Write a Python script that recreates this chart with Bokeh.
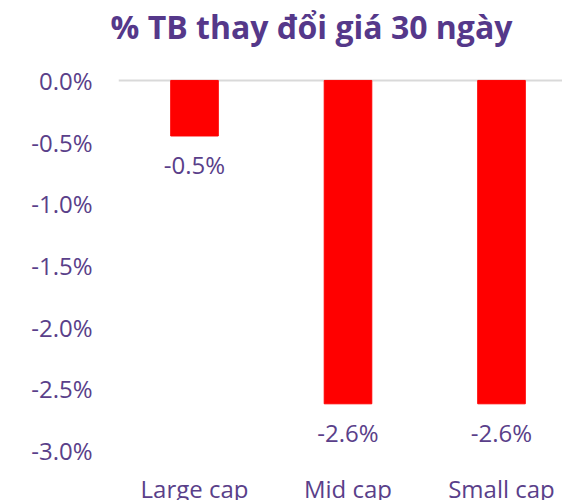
from bokeh.plotting import figure
from bokeh.models import Range1d, FixedTicker, PrintfTickFormatter, ColumnDataSource
from bokeh.core.properties import value
from bokeh.embed import file_html
from bokeh.resources import INLINE

categories = ["Large cap", "Mid cap", "Small cap"]
values = [-0.45, -2.62, -2.62]
value_labels = ["-0.5%", "-2.6%", "-2.6%"]
y_ticks = [0.0, -0.5, -1.0, -1.5, -2.0, -2.5, -3.0]
title_text = "% TB thay đổi giá 30 ngày"

PURPLE_T = "#55388a"
PURPLE = "#5a3f8a"
FONT = "Open Sans"
CAT_Y = -3.307

x = list(range(len(categories)))
src = ColumnDataSource(dict(x=x, top=[0] * len(values), bottom=values,
                            cat=categories, lab=value_labels))

p = figure(width=562, height=500, output_backend="svg", toolbar_location=None,
           x_range=Range1d(-0.4951, 2.3974), y_range=Range1d(-3.4034, 0.2507),
           x_axis_location=None,
           min_border_left=118, min_border_right=0, min_border_top=48, min_border_bottom=0)
p.outline_line_color = None
p.background_fill_color = "white"
p.border_fill_color = "white"

p.title.text = title_text
p.title.align = "left"
p.title.offset = -8
p.title.standoff = 4
p.title.text_font = FONT
p.title.text_font_style = "bold"
p.title.text_font_size = "32px"
p.title.text_color = PURPLE_T

ax = p.yaxis[0]
ax.ticker = FixedTicker(ticks=y_ticks)
ax.formatter = PrintfTickFormatter(format="%.1f%%")
ax.axis_line_color = None
ax.major_tick_line_color = None
ax.minor_tick_line_color = None
ax.major_tick_out = 0
ax.major_tick_in = 0
ax.major_label_standoff = 26
ax.major_label_text_font = FONT
ax.major_label_text_font_size = "24px"
ax.major_label_text_color = PURPLE

p.xgrid.visible = False
p.ygrid.ticker = FixedTicker(ticks=[0])
p.ygrid.grid_line_color = "#d9d9d9"
p.ygrid.grid_line_width = 2

p.vbar(x="x", top="top", bottom="bottom", width=0.31, color="#ff0000", source=src)

p.text(x="x", y="bottom", text="lab", source=src, text_align="center",
       text_baseline="middle", y_offset=29, text_font=value(FONT),
       text_font_size="24px", text_color=PURPLE)

p.text(x="x", y=CAT_Y, text="cat", source=src, text_align="center",
       text_baseline="middle", text_font=value(FONT),
       text_font_size="24px", text_color=PURPLE)

open("out.html", "w").write(file_html(p, INLINE))
